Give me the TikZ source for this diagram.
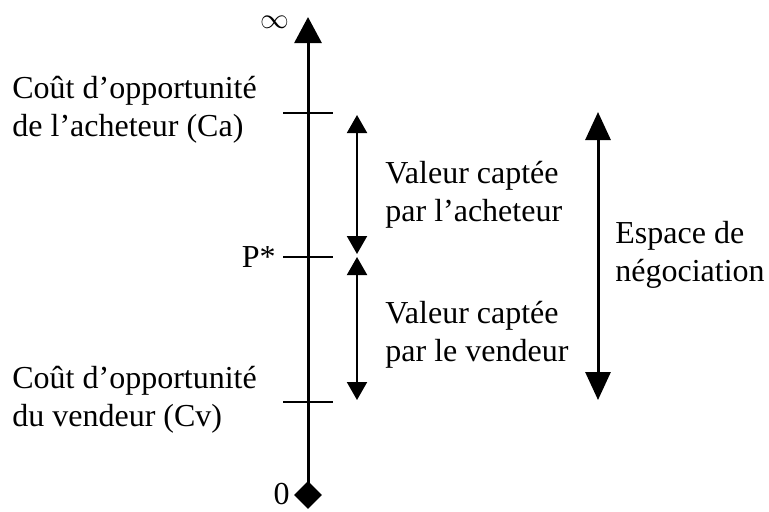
\documentclass[tikz,border=0pt]{standalone}
\usepackage{fontspec}
\setmainfont{Liberation Serif}
\usetikzlibrary{arrows.meta,shapes.geometric}

\begin{document}
\begin{tikzpicture}[x=0.5pt,y=-0.5pt,
  lbl/.style={anchor=west,inner sep=0pt,align=left,font=\fontsize{16}{19}\selectfont},
  axis/.style={line width=1.5pt},
  tick/.style={line width=1pt},
  span/.style={line width=1pt,{Triangle[length=9pt,width=10pt]}-{Triangle[length=9pt,width=10pt]}},
  bigspan/.style={line width=1.5pt,{Triangle[length=14pt,width=12.5pt]}-{Triangle[length=14pt,width=12.5pt]}}]
\useasboundingbox (0,0) rectangle (769,511);

% Axis points
\coordinate (inf) at (308,17);
\coordinate (ca) at (308,113);
\coordinate (pstar) at (308,257);
\coordinate (cv) at (308,402);
\node [diamond,fill,inner sep=0pt,minimum size=14pt] (zero) at (308,495) {};

%Straight Lines: axis
\draw [axis,-{Triangle[length=13pt,width=13.5pt]}] (zero.center) -- (inf);
%Straight Lines: ticks
\draw [tick] ([xshift=-12.5pt]ca) -- ([xshift=12.5pt]ca);
\draw [tick] ([xshift=-12.5pt]pstar) -- ([xshift=12.5pt]pstar);
\draw [tick] ([xshift=-12.5pt]cv) -- ([xshift=12.5pt]cv);

% Captured value arrows
\coordinate (a1) at (357,115);
\coordinate (a2) at (357,254);
\coordinate (b1) at (357,257);
\coordinate (b2) at (357,400);
\draw [span] (a1) -- (a2);
\draw [span] (b1) -- (b2);

% Negotiation space arrow
\coordinate (e1) at (598,112);
\coordinate (e2) at (598,400);
\draw [bigspan] (e1) -- (e2);

% Text Node
\node [lbl,anchor=east,font=\fontsize{14}{16}\selectfont] (inflbl) at (290,22) {$\infty$};
% Text Node
\node [lbl,anchor=east] (zerolbl) at (290,494) {0};
% Text Node
\node [lbl,anchor=east] (plbl) at (276,257) {P*};
% Text Node
\node [lbl] (calbl) at (12,110) {Coût d’opportunité\\de l’acheteur (Ca)};
% Text Node
\node [lbl] (cvlbl) at (12,400) {Coût d’opportunité\\du vendeur (Cv)};
% Text Node
\node [lbl] (achlbl) at (385,195) {Valeur captée\\par l’acheteur};
% Text Node
\node [lbl] (vdlbl) at (385,335) {Valeur captée\\par le vendeur};
% Text Node
\node [lbl] (esplbl) at (615,255) {Espace de\\négociation};

\end{tikzpicture}
\end{document}
